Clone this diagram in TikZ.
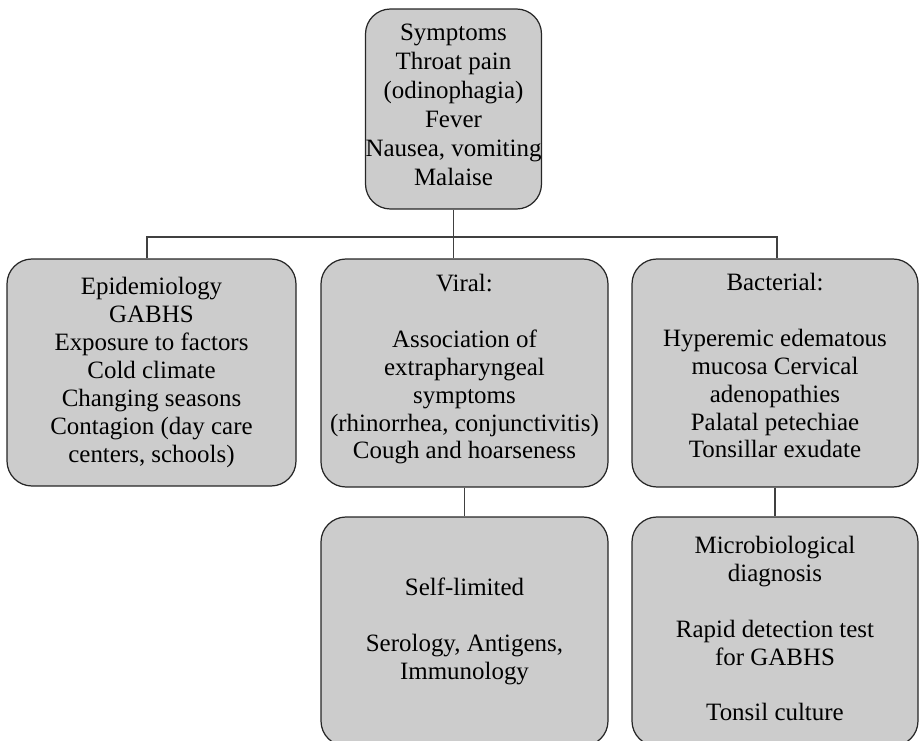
\documentclass[tikz,border=0pt]{standalone}
\usepackage{fontspec}
\setmainfont{Liberation Serif}
\usepackage{tikz}
\usetikzlibrary{positioning}
\tikzset{box/.style = {draw=black!85, fill=boxgray, rounded corners=0.5cm,
                       line width=0.7pt, align=center, inner sep=0,
                       font=\fontsize{14.2}{15.9}\selectfont}}
\tikzset{link/.style = {draw=black!75, line width=0.7pt}}
\definecolor{boxgray}{RGB}{204, 204, 204}
\newcommand{\lowerby}[1]{\rule[-#1]{0pt}{0pt}}

\begin{document}
\begin{tikzpicture}[x=0.02cm, y=-0.02cm]
      \useasboundingbox (0, 0) rectangle (921, 741);
      \clip (0, 0) rectangle (921, 741);

      \node [box, font=\fontsize{14.2}{16.5}\selectfont,
             minimum width=171*0.02cm, minimum height=200*0.02cm] (symptoms) at (453.5, 109)
            {Symptoms\\Throat pain\\(odinophagia)\\Fever\\Nausea, vomiting\\Malaise\lowerby{0.16cm}};

      \node [box, minimum width=289*0.02cm, minimum height=227*0.02cm] (epidem) at (151.5, 372.5)
            {Epidemiology\\GABHS\\Exposure to factors\\Cold climate\\Changing seasons\\Contagion (day care\\centers, schools)};
      \node [box, minimum width=287*0.02cm, minimum height=228*0.02cm] (viral) at (464.5, 373)
            {Viral:\\[15.9pt]Association of\\extrapharyngeal\\symptoms\\(rhinorrhea, conjunctivitis)\\Cough and hoarseness\lowerby{0.26cm}};
      \node [box, minimum width=286*0.02cm, minimum height=228*0.02cm] (bacterial) at (775, 373)
            {Bacterial:\\[15.9pt]Hyperemic edematous\\mucosa Cervical\\adenopathies\\Palatal petechiae\\Tonsillar exudate\lowerby{0.3cm}};

      \node [box, minimum width=287*0.02cm, minimum height=229*0.02cm] (selflim) at (464.5, 631.5)
            {Self-limited\\[15.9pt]Serology, Antigens,\\Immunology};
      \node [box, minimum width=286*0.02cm, minimum height=229*0.02cm] (microbio) at (775, 631.5)
            {Microbiological\\diagnosis\\[15.9pt]Rapid detection test\\for GABHS\\[15.9pt]Tonsil culture\lowerby{0.12cm}};

      \coordinate (busl) at (147, 237);
      \coordinate (busr) at (777, 237);
      \draw [link] (symptoms.south) -- (symptoms.south |- viral.north);
      \draw [link] (busl |- epidem.north) -- (busl) -- (busr) -- (busr |- bacterial.north);
      \draw [link] (viral.south) -- (selflim.north);
      \draw [link] (bacterial.south) -- (microbio.north);
    \end{tikzpicture}
\end{document}
